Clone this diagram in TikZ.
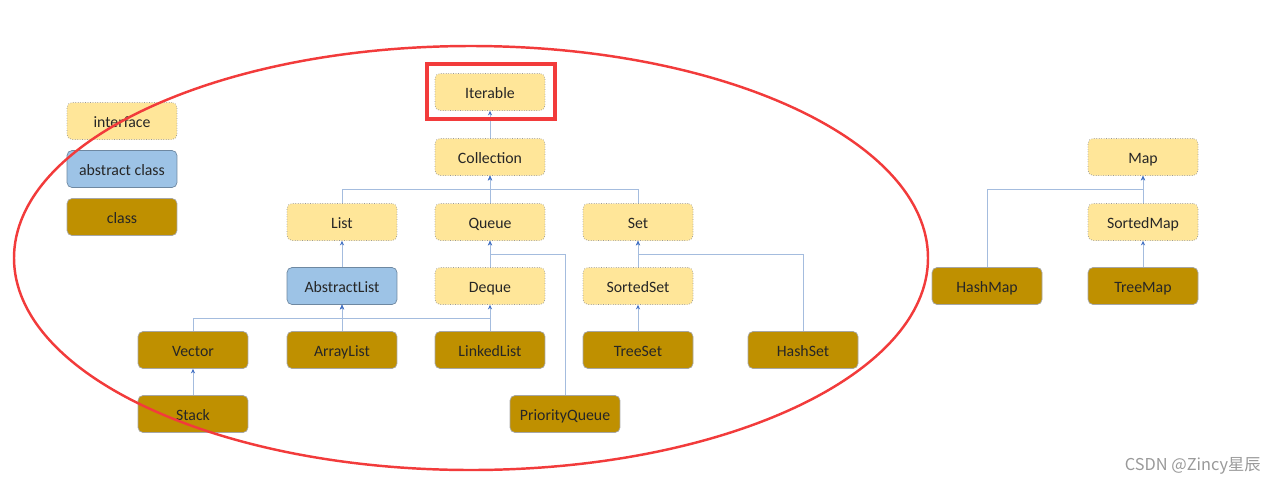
\documentclass[tikz,border=0pt]{standalone}
\usepackage{fontspec}
\setmainfont{Carlito}
\newfontfamily\cjk{Noto Sans CJK SC}
\usetikzlibrary{arrows.meta}

\definecolor{ifacefill}{HTML}{FFE699}
\definecolor{absfill}{HTML}{9DC3E6}
\definecolor{classfill}{HTML}{BF9000}
\definecolor{linkcolor}{HTML}{A4BCDE}
\definecolor{tipcolor}{HTML}{4472C4}
\definecolor{markred}{HTML}{F23B3B}

\tikzset{
  box/.style={rounded corners=0.1cm, minimum width=2.2cm, minimum height=0.74cm,
    font=\fontsize{9}{10}\selectfont, text=black!85, inner sep=0pt,
    text height=1.8ex, text depth=0.35ex},
  iface/.style={box, fill=ifacefill, draw=black!40, densely dotted},
  absclass/.style={box, fill=absfill, draw=absfill!70!black, line width=0.4pt},
  jclass/.style={box, fill=classfill, draw=black!35, line width=0.4pt},
  link/.style={draw=linkcolor, line width=0.5pt,
    -{Stealth[length=2.6pt,width=2.4pt,color=tipcolor]}},
}

\begin{document}
\begin{tikzpicture}[x=0.02cm,y=-0.02cm]
  \useasboundingbox (0,0) rectangle (1280,484);

    \node[iface]    (interface) at (122,121) {interface};
    \node[absclass] (abstract)  at (122,169) {abstract class};
    \node[jclass]   (class)     at (122,217) {class};

    \node[iface] (Iterable)   at (490,92)  {Iterable};
    \node[iface] (Collection) at (490,157) {Collection};
    \node[iface] (List)       at (342,222) {List};
    \node[iface] (Queue)      at (490,222) {Queue};
    \node[iface] (Set)        at (638,222) {Set};
    \node[absclass] (AbstractList) at (342,286) {AbstractList};
    \node[iface] (Deque)      at (490,286) {Deque};
    \node[iface] (SortedSet)  at (638,286) {SortedSet};
    \node[jclass] (Vector)     at (193,350) {Vector};
    \node[jclass] (ArrayList)  at (342,350) {ArrayList};
    \node[jclass] (LinkedList) at (490,350) {LinkedList};
    \node[jclass] (TreeSet)    at (638,350) {TreeSet};
    \node[jclass] (HashSet)    at (803,350) {HashSet};
    \node[jclass] (Stack)      at (193,414) {Stack};
    \node[jclass] (PriorityQueue) at (565,414) {PriorityQueue};

    \node[iface] (Map)       at (1143,157) {Map};
    \node[iface] (SortedMap) at (1143,222) {SortedMap};
    \node[jclass] (HashMap)  at (987,286)  {HashMap};
    \node[jclass] (TreeMap)  at (1143,286) {TreeMap};

    \draw[link] (Collection) -- (Iterable);
    \draw[link] (List.north) |- ([yshift=-0.28cm]Collection.south) -- (Collection.south);
    \draw[link] (Queue) -- (Collection);
    \draw[link] (Set.north) |- ([yshift=-0.28cm]Collection.south) -- (Collection.south);
    \draw[link] (AbstractList) -- (List);
    \draw[link] (Deque) -- (Queue);
    \draw[link] (PriorityQueue.north) |- ([yshift=-0.28cm]Queue.south) -- (Queue.south);
    \draw[link] (SortedSet) -- (Set);
    \draw[link] (HashSet.north) |- ([yshift=-0.28cm]Set.south) -- (Set.south);
    \draw[link] (Vector.north) |- ([yshift=-0.28cm]AbstractList.south) -- (AbstractList.south);
    \draw[link] (ArrayList) -- (AbstractList);
    \draw[link] (LinkedList.north) |- ([yshift=-0.28cm]AbstractList.south) -- (AbstractList.south);
    \draw[link] (LinkedList) -- (Deque);
    \draw[link] (TreeSet) -- (SortedSet);
    \draw[link] (Stack) -- (Vector);
    \draw[link] (SortedMap) -- (Map);
    \draw[link] (HashMap.north) |- ([yshift=-0.28cm]Map.south) -- (Map.south);
    \draw[link] (TreeMap) -- (SortedMap);

    \draw[markred, line width=2.8pt] (427,64) rectangle (555,119);
    \draw[markred, line width=1.4pt] (471,258) ellipse [x radius=457, y radius=212];

    \node[text=black!40, font=\cjk\fontsize{9.3}{10}\selectfont, anchor=east] (mark) at (1267,466) {CSDN @Zincy星辰};

\end{tikzpicture}
\end{document}
